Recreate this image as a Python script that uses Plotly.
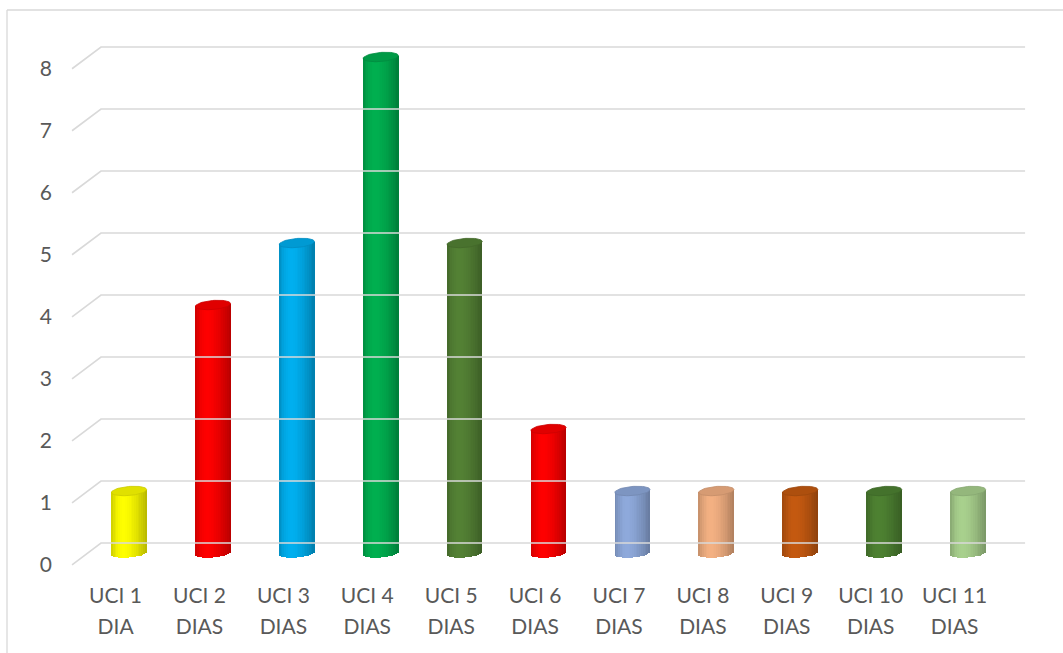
import numpy as np
import plotly.graph_objects as go

# ---- data ----
label_line1 = ["UCI 1", "UCI 2", "UCI 3", "UCI 4", "UCI 5", "UCI 6",
               "UCI 7", "UCI 8", "UCI 9", "UCI 10", "UCI 11"]
label_line2 = ["DIA", "DIAS", "DIAS", "DIAS", "DIAS", "DIAS",
               "DIAS", "DIAS", "DIAS", "DIAS", "DIAS"]
values = [1, 4, 5, 8, 5, 2, 1, 1, 1, 1, 1]
bar_colors = ["#FFFF00", "#FF0000", "#00B0F0", "#00B050", "#548235", "#FF0000",
              "#8FAADC", "#F4B183", "#C55A11", "#4E8232", "#A9D18E"]
y_ticks = [0, 1, 2, 3, 4, 5, 6, 7, 8]

# ---- styling / geometry constants ----
R = 0.21        # cylinder half width (category units)
B = 0.073       # ellipse half height (value units)
SHEAR = 0.11    # perspective tilt of ellipses
N = 20          # shading stripes
BACK = 0.16     # back-wall offset of gridlines
FRONT = -0.19   # front offset of gridlines
GRID_X0, GRID_XB, GRID_X1 = -0.679, -0.334, 10.68
TEXT_COLOR = "#595959"
FONT = "Lato"
FONT_SIZE = 21


def hex_to_rgb(h):
    h = h.lstrip("#")
    return tuple(int(h[i:i + 2], 16) for i in (0, 2, 4))


def shade(h, f):
    r, g, b = hex_to_rgb(h)
    if f <= 1:
        return "rgb(%d,%d,%d)" % (r * f, g * f, b * f)
    a = f - 1
    return "rgb(%d,%d,%d)" % (r + (255 - r) * a, g + (255 - g) * a, b + (255 - b) * a)


def light(t):
    # brightness across cylinder, t in [-1, 1]
    peak = -0.3
    if t < peak:
        d = (peak - t) / (1 + peak)
        return 1.0 - 0.2 * d ** 2
    d = (t - peak) / (1 - peak)
    return 1.0 - 0.28 * d ** 1.6


xs = list(range(len(values)))
fig = go.Figure()

# gridlines (back wall + floor diagonal)
gx, gy = [], []
for v in y_ticks:
    gx += [GRID_X0, GRID_XB, GRID_X1, None]
    gy += [v + FRONT, v + BACK, v + BACK, None]
fig.add_trace(go.Scatter(x=gx, y=gy, mode="lines",
                         line=dict(color="#D9D9D9", width=1.6),
                         hoverinfo="skip"))

# cylinder bodies as shaded stripes
w = 2 * R / N
for k in range(N):
    x0 = -R + k * w
    xc = x0 + w / 2
    t = xc / R
    e = B * np.sqrt(max(0.0, 1 - t * t))
    f = light(t)
    fig.add_trace(go.Bar(
        x=xs,
        y=[v + e for v in values],
        base=[-e + SHEAR * xc] * len(values),
        width=w * 1.25,
        offset=x0 - w * 0.125,
        marker=dict(color=[shade(c, f) for c in bar_colors], line=dict(width=0)),
        hoverinfo="skip",
    ))

# cylinder tops
th = np.linspace(0, 2 * np.pi, 60)
for i, (v, c) in enumerate(zip(values, bar_colors)):
    ex = i + R * np.cos(th)
    ey = v + B * np.sin(th) + SHEAR * R * np.cos(th)
    fig.add_trace(go.Scatter(x=ex, y=ey, mode="lines", fill="toself",
                             fillcolor=shade(c, 0.88),
                             line=dict(color=shade(c, 0.8), width=0.8),
                             hoverinfo="skip"))

# y tick labels
fig.add_trace(go.Scatter(x=[-0.99] * len(y_ticks), y=[v + FRONT - 0.03 for v in y_ticks],
                         mode="text", text=[str(v) for v in y_ticks],
                         textfont=dict(family=FONT, size=FONT_SIZE, color=TEXT_COLOR),
                         hoverinfo="skip"))

# category labels (two lines)
fig.add_trace(go.Scatter(x=[i - 0.16 for i in xs], y=[-0.72] * len(xs),
                         mode="text", text=label_line1,
                         textfont=dict(family=FONT, size=FONT_SIZE, color=TEXT_COLOR),
                         hoverinfo="skip"))
fig.add_trace(go.Scatter(x=[i - 0.16 for i in xs], y=[-1.22] * len(xs),
                         mode="text", text=label_line2,
                         textfont=dict(family=FONT, size=FONT_SIZE, color=TEXT_COLOR),
                         hoverinfo="skip"))

W, H = 1063, 653
fig.update_layout(
    width=W, height=H,
    margin=dict(l=0, r=0, t=0, b=0),
    paper_bgcolor="white", plot_bgcolor="white",
    barmode="overlay", bargap=0,
    showlegend=False, hovermode=False,
    xaxis=dict(range=[-1.5375, 11.132], visible=False, fixedrange=True),
    yaxis=dict(range=[-1.613, 8.919], visible=False, fixedrange=True),
    shapes=[
        dict(type="line", xref="paper", yref="paper", x0=7 / W, x1=1.0,
             y0=1 - 10 / H, y1=1 - 10 / H, line=dict(color="#D9D9D9", width=1.3)),
        dict(type="line", xref="paper", yref="paper", x0=7 / W, x1=7 / W,
             y0=1 - 10 / H, y1=0, line=dict(color="#D9D9D9", width=1.3)),
    ],
)

fig.write_html("out.html", config={"displayModeBar": False},
               post_script="document.body.style.margin='0';document.body.style.overflow='hidden';")
